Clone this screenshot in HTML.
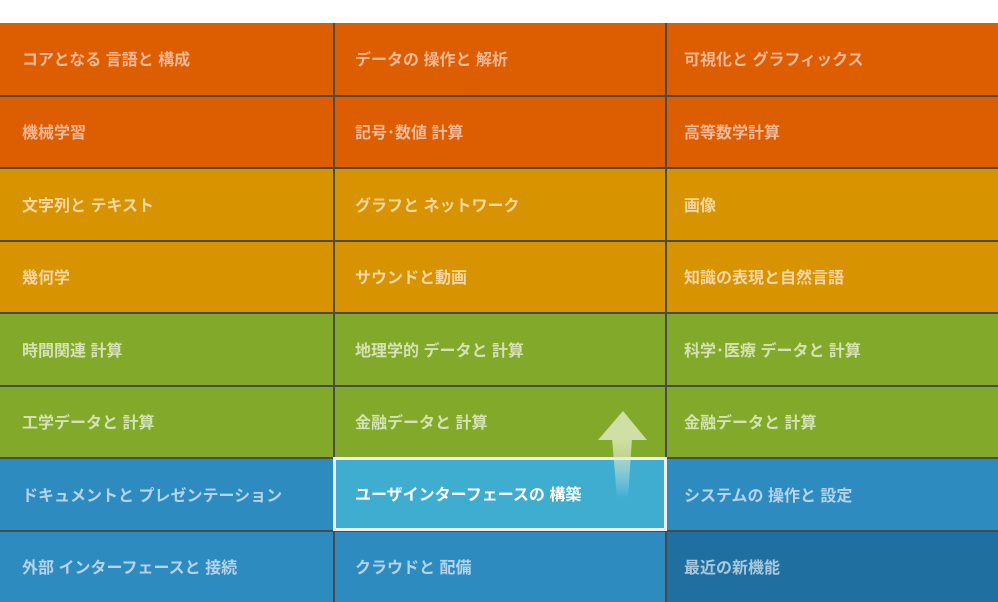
<!DOCTYPE html>
<html><head><meta charset="utf-8"><style>
html,body{margin:0;padding:0;width:998px;height:602px;overflow:hidden;background:#fff;position:relative;}
.wrap{position:absolute;left:0;top:23px;width:998px;height:579px;background:#4a4a4a;}
.c{position:absolute;box-sizing:border-box;padding-left:22px;padding-bottom:2px;display:flex;align-items:center;font-family:"Liberation Sans","Noto Sans CJK JP",sans-serif;font-size:16px;font-weight:bold;white-space:nowrap;}
.o{background:#dc5e00;color:#f3b898;}
.y{background:#d79400;color:#f2d6a6;}
.g{background:#82a92a;color:#d4e2b4;}
.b{background:#2e8bbf;color:#b4d3e8;}
.d{background:#1f70a0;color:#a9c8de;}
.h{background:#3eadd0;color:#fff;border:3px solid #f3ecef;padding-left:19px;}
.c0{left:0;width:333px;}.c1{left:335px;width:330px;padding-left:20px;}.c2{left:667px;width:331px;padding-left:17px;}
.r0{top:23px;height:72px;}.r1{top:97px;height:70px;}.r2{top:169px;height:71px;}.r3{top:242px;height:70px;}
.r4{top:314px;height:71px;}.r5{top:387px;height:70px;}.r6{top:459px;height:71px;}.r7{top:532px;height:70px;}
</style></head><body>
<div class="wrap"></div>
<div class="c o r0 c0">コアとなる 言語と 構成</div><div class="c o r0 c1">データの 操作と 解析</div><div class="c o r0 c2">可視化と グラフィックス</div>
<div class="c o r1 c0">機械学習</div><div class="c o r1 c1">記号･数値 計算</div><div class="c o r1 c2">高等数学計算</div>
<div class="c y r2 c0">文字列と テキスト</div><div class="c y r2 c1">グラフと ネットワーク</div><div class="c y r2 c2">画像</div>
<div class="c y r3 c0">幾何学</div><div class="c y r3 c1">サウンドと動画</div><div class="c y r3 c2">知識の表現と自然言語</div>
<div class="c g r4 c0">時間関連 計算</div><div class="c g r4 c1">地理学的 データと 計算</div><div class="c g r4 c2">科学･医療 データと 計算</div>
<div class="c g r5 c0">工学データと 計算</div><div class="c g r5 c1">金融データと 計算</div><div class="c g r5 c2">金融データと 計算</div>
<div class="c b r6 c0">ドキュメントと プレゼンテーション</div><div class="c h" style="left:333px;top:457px;width:334px;height:74px;">ユーザインターフェースの 構築</div><div class="c b r6 c2">システムの 操作と 設定</div>
<div class="c b r7 c0">外部 インターフェースと 接続</div><div class="c b r7 c1">クラウドと 配備</div><div class="c d r7 c2">最近の新機能</div>
<svg width="998" height="602" style="position:absolute;left:0;top:0;z-index:5">
<defs><linearGradient id="sf" x1="0" y1="0" x2="0" y2="1"><stop offset="0" stop-color="#d2e3a6" stop-opacity="0.95"/><stop offset="1" stop-color="#ffffff" stop-opacity="0"/></linearGradient></defs>
<polygon points="612,438 632,438 628,498 617,498" fill="url(#sf)"/>
<polygon points="623,411 647,440 598,440" fill="#cfe0a6"/>
</svg>
</body></html>
